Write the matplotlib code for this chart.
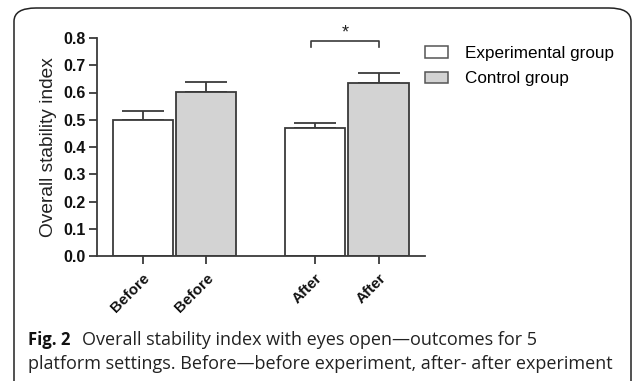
import matplotlib
matplotlib.use("Agg")
import matplotlib.pyplot as plt
from matplotlib.patches import FancyBboxPatch, Patch

plt.rcParams['font.family'] = ['Liberation Sans', 'DejaVu Sans']

# data
labels = ['Before', 'Before', 'After', 'After']
groups = ['Experimental group', 'Control group', 'Experimental group', 'Control group']
means = [0.499, 0.602, 0.470, 0.636]
errs = [0.034, 0.038, 0.019, 0.037]
xpos = [0.75, 1.79, 3.58, 4.62]
yticks = [0.0, 0.1, 0.2, 0.3, 0.4, 0.5, 0.6, 0.7, 0.8]

colors = {'Experimental group': 'white', 'Control group': '#d3d3d3'}
edge = '#3a3a3a'

fig = plt.figure(figsize=(6.33, 3.81), dpi=100)

# rounded frame around figure + caption
frame = FancyBboxPatch((14 / 633, -0.05), 617 / 633, 1.0 - 8 / 381 + 0.05,
                       boxstyle="round,pad=0,rounding_size=0.035",
                       transform=fig.transFigure, fill=False,
                       edgecolor='#222222', linewidth=1.1)
fig.patches.append(frame)

ax = fig.add_axes([97 / 633, 125 / 381, 328 / 633, 218 / 381])

for x, m, e, g in zip(xpos, means, errs, groups):
    ax.bar(x, m, width=0.99, color=colors[g], edgecolor=edge, linewidth=1.3, zorder=2)
    ax.errorbar(x, m, yerr=[[0], [e]], fmt='none', ecolor=edge,
                elinewidth=1.3, capsize=15, capthick=1.3, zorder=1)

# significance bracket between the two "After" bars
bx0, bx1 = xpos[2] - 0.07, xpos[3]
ax.plot([bx0, bx0, bx1, bx1], [0.768, 0.79, 0.79, 0.768], color=edge, lw=1.2,
        clip_on=False)
ax.text((bx0 + bx1) / 2, 0.82, '*', ha='center', va='center', fontsize=13,
        color='#222222')

ax.set_xlim(0, 5.38)
ax.set_ylim(0, 0.8)
ax.set_yticks(yticks)
ax.set_yticklabels(['%.1f' % v for v in yticks], fontweight='bold', fontsize=11.5)
ax.set_xticks(xpos)
ax.set_xticklabels(labels, rotation=45, ha='right', va='top', rotation_mode='anchor',
                   fontweight='bold', fontsize=11)
ax.tick_params(axis='both', direction='out', length=6, width=1.3, color=edge,
               labelcolor='#111111')
ax.tick_params(axis='x', pad=5)
ax.tick_params(axis='y', pad=2)
for s in ['top', 'right']:
    ax.spines[s].set_visible(False)
for s in ['left', 'bottom']:
    ax.spines[s].set_color(edge)
    ax.spines[s].set_linewidth(1.3)
ax.set_ylabel('Overall stability index', fontsize=13.8, color='#222222', labelpad=5)

handles = [Patch(facecolor=colors[g], edgecolor='#555555', linewidth=1.1)
           for g in ['Experimental group', 'Control group']]
fig.legend(handles, ['Experimental group', 'Control group'], loc='upper left',
           bbox_to_anchor=(425 / 633, 1 - 46 / 381), frameon=False, fontsize=12.3,
           handlelength=1.35, handleheight=0.65, handletextpad=1.0, labelspacing=0.6,
           borderpad=0, borderaxespad=0)

# caption
cap_font = ['Open Sans', 'DejaVu Sans']
fig.text(28 / 633, 1 - 340 / 381, 'Fig. 2', fontsize=12, fontweight='bold',
         family=cap_font, va='center', color='#111111')
fig.text(82 / 633, 1 - 340 / 381,
         'Overall stability index with eyes open\u2014outcomes for 5',
         fontsize=13, family=cap_font, va='center', color='#222222')
fig.text(28 / 633, 1 - 364 / 381,
         'platform settings. Before\u2014before experiment, after- after experiment',
         fontsize=13, family=cap_font, va='center', color='#222222')

fig.savefig('out.png', dpi=100)
